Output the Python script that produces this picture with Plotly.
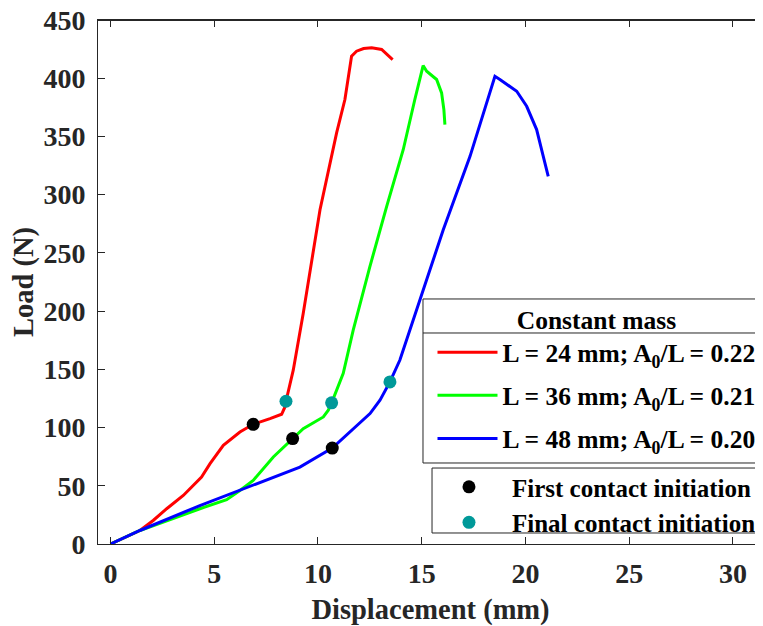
import plotly.graph_objects as go

# ---------------- data ----------------
red_x = [0, 1.42, 2.06, 2.71, 3.51, 4.39, 4.8, 5.44, 6.24, 6.88, 7.69, 8.25, 8.41, 8.46,
         8.81, 9.29, 10.1, 10.9, 11.3, 11.62, 11.86, 12.2, 12.59, 13.07, 13.6]
red_y = [0, 11.6, 20.2, 30.3, 41.7, 57.5, 69, 84.8, 96.2, 102.8, 107.7, 111.4, 117.7, 122.6,
         149.3, 198, 287, 353, 381.7, 418.9, 423.2, 425.5, 426.1, 424.7, 416]

green_x = [0, 1.42, 4.31, 5.6, 6.24, 6.88, 7.85, 8.78, 9.29, 10.26, 10.5, 10.66, 11.22, 11.7,
           12.5, 13.31, 14.11, 14.67, 15.07, 15.24, 15.72, 15.96, 16.07, 16.12]
green_y = [0, 11.6, 30.3, 38, 46, 54.6, 74.7, 90.5, 99.1, 109.1, 114.9, 121.2, 146.5, 183.7,
           238, 289.8, 338.6, 381.7, 410.9, 406, 398.9, 387.4, 373, 360.2]

blue_x = [0, 1.42, 4.31, 6.24, 8.17, 9.13, 10.69, 11.62, 12.51, 12.99, 13.47, 13.95, 14.59,
          16.04, 17.33, 18.53, 18.77, 19.58, 20.06, 20.54, 20.86, 21.1]
blue_y = [0, 11.6, 33, 46, 59, 66, 82.4, 97.7, 112, 123.5, 139.2, 158, 192,
          269.8, 332.9, 401.7, 398.9, 388.8, 375.9, 355.9, 332.9, 315.7]

first_x = [6.88, 8.78, 10.69]
first_y = [102.8, 90.5, 82.4]
final_x = [8.46, 10.66, 13.47]
final_y = [122.6, 121.2, 139.2]

series_names = ["L = 24 mm; A<sub>0</sub>/L = 0.22",
                "L = 36 mm; A<sub>0</sub>/L = 0.21",
                "L = 48 mm; A<sub>0</sub>/L = 0.20"]
series_colors = ["#FF0000", "#00FF00", "#0000FF"]

x_ticks = [0, 5, 10, 15, 20, 25, 30]
y_ticks = [0, 50, 100, 150, 200, 250, 300, 350, 400, 450]

FONT = "Liberation Serif"
AX = "#262626"
X_RANGE = [-0.6, 31.45]

fig = go.Figure()
for xs, ys, nm, col, grp in zip([red_x, green_x, blue_x], [red_y, green_y, blue_y],
                                series_names, series_colors, ["a", "b", "c"]):
    fig.add_trace(go.Scatter(x=xs, y=ys, mode="lines", name=nm, legend="legend",
                             legendgroup=grp,
                             line=dict(color=col, width=3)))

fig.add_trace(go.Scatter(x=first_x, y=first_y, mode="markers", name="First contact initiation",
                         legend="legend2", legendgroup="d",
                         marker=dict(color="#000000", size=13)))
fig.add_trace(go.Scatter(x=final_x, y=final_y, mode="markers", name="Final contact initiation",
                         legend="legend2", legendgroup="e",
                         marker=dict(color="#009999", size=13)))

# legend frames and top box edge (paper coords)
shapes = [
    dict(type="line", xref="paper", yref="paper", x0=0, x1=1.0, y0=0.999, y1=0.999,
         line=dict(color=AX, width=1.2), layer="above"),
    dict(type="rect", xref="paper", yref="paper", x0=0.4887, x1=1.05, y0=0.1546, y1=0.4676,
         line=dict(color=AX, width=1), fillcolor="white", layer="above"),
    dict(type="line", xref="paper", yref="paper", x0=0.4887, x1=1.05, y0=0.4027, y1=0.4027,
         line=dict(color=AX, width=1), layer="above"),
    dict(type="rect", xref="paper", yref="paper", x0=0.5023, x1=0.997, y0=0.021, y1=0.145,
         line=dict(color=AX, width=1), fillcolor="white", layer="above"),
]

# the page body has an 8 px margin, so the figure is 8 px smaller each way
fig.update_layout(
    width=755, height=618,
    margin=dict(l=90, r=0, t=12, b=82, autoexpand=False),
    paper_bgcolor="white", plot_bgcolor="white",
    font=dict(family=FONT, size=28, color=AX, weight="bold"),
    shapes=shapes,
    legend=dict(x=0.503, y=0.4733, xanchor="left", yanchor="top",
                bgcolor="rgba(0,0,0,0)", borderwidth=0,
                font=dict(family=FONT, size=25.5, color="#000000", weight="bold"),
                title=dict(text="Constant mass", side="top center",
                           font=dict(family=FONT, size=25.5, color="#000000", weight="bold")),
                tracegroupgap=7, itemwidth=60, traceorder="grouped"),
    legend2=dict(x=0.4932, y=0.1526, xanchor="left", yanchor="top",
                 bgcolor="rgba(0,0,0,0)", borderwidth=0,
                 font=dict(family=FONT, size=25, color="#000000", weight="bold"),
                 tracegroupgap=0, itemwidth=76, traceorder="grouped"),
    xaxis=dict(range=X_RANGE, tickvals=x_ticks, ticks="inside", ticklen=7,
               tickcolor=AX, showline=True, linecolor=AX, linewidth=1, mirror="ticks",
               showgrid=False, zeroline=False, ticklabelstandoff=4, automargin=False,
               ticklabeloverflow="allow",
               tickfont=dict(family=FONT, size=28, color=AX, weight="bold"),
               title=dict(text="Displacement (mm)", standoff=16,
                          font=dict(family=FONT, size=28.5, color=AX, weight="bold"))),
    yaxis=dict(range=[0, 450], tickvals=y_ticks, ticks="inside", ticklen=7,
               tickcolor=AX, showline=True, linecolor=AX, linewidth=1, mirror=False,
               showgrid=False, zeroline=False, ticklabelstandoff=6, automargin=False,
               ticklabeloverflow="allow",
               tickfont=dict(family=FONT, size=28, color=AX, weight="bold"),
               title=dict(text="Load (N)", standoff=3,
                          font=dict(family=FONT, size=28.5, color=AX, weight="bold"))),
)

fig.write_html("out.html", config={"displayModeBar": False})
